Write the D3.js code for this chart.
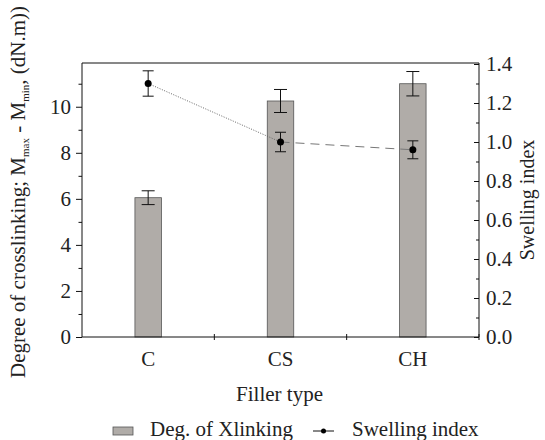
<!DOCTYPE html>
<html>
<head>
<meta charset="utf-8">
<script src="https://cdn.jsdelivr.net/npm/d3@7"></script>
<style>
  body { margin: 0; background: #fff; }
  text { font-family: "Liberation Serif", "Times New Roman", serif; fill: #222; }
</style>
</head>
<body>
<svg id="chart"></svg>
<script>
// data
let fillers = ['C', 'CS', 'CH'];
let xlinking = [6.05, 10.25, 11.0];
let xlinkingErr = [0.3, 0.5, 0.53];
let swelling = [1.30, 1.00, 0.96];
let swellingErr = [0.065, 0.05, 0.046];
let leftTicks = [0, 2, 4, 6, 8, 10];
let rightTicks = [0.0, 0.2, 0.4, 0.6, 0.8, 1.0, 1.2, 1.4];

let width = 545, height = 440;
let plot = { left: 82, right: 479, top: 63, bottom: 337 };
let fontSize = '21px';

let svg = d3.select('#chart').attr('width', width).attr('height', height);

function translate(x, y) {
  return 'translate(' + x + ',' + y + ')';
}

let x = d3.scaleBand().domain(fillers).range([plot.left, plot.right]).padding(0);
let yLeft = d3.scaleLinear().domain([0, 11.9]).range([plot.bottom, plot.top]);
let yRight = d3.scaleLinear().domain([0, 1.4]).range([plot.bottom, plot.top + 1]);

let barW = x.bandwidth() * 0.2;
let cx = d => x(d) + x.bandwidth() / 2;

// bars
svg.selectAll('.bar')
  .data(fillers)
  .enter().append('rect')
  .attr('class', 'bar')
  .attr('x', d => cx(d) - barW / 2)
  .attr('width', barW)
  .attr('y', (d, i) => yLeft(xlinking[i]))
  .attr('height', (d, i) => plot.bottom - yLeft(xlinking[i]))
  .attr('fill', '#b0aca8')
  .attr('stroke', '#555')
  .attr('stroke-width', 0.8);

// error bars helper
function errorBars(cls, vals, errs, scale, cap) {
  let g = svg.append('g').attr('class', cls).attr('stroke', '#111').attr('stroke-width', 1);
  fillers.forEach((f, i) => {
    let px = cx(f), hi = scale(vals[i] + errs[i]), lo = scale(vals[i] - errs[i]);
    g.append('line').attr('x1', px).attr('x2', px).attr('y1', hi).attr('y2', lo);
    g.append('line').attr('x1', px - cap).attr('x2', px + cap).attr('y1', hi).attr('y2', hi);
    g.append('line').attr('x1', px - cap).attr('x2', px + cap).attr('y1', lo).attr('y2', lo);
  });
}
errorBars('bar-err', xlinking, xlinkingErr, yLeft, 6.5);

// swelling line: dotted first segment, dashed second
let pts = fillers.map((f, i) => [cx(f), yRight(swelling[i])]);
svg.append('line')
  .attr('x1', pts[0][0]).attr('y1', pts[0][1])
  .attr('x2', pts[1][0]).attr('y2', pts[1][1])
  .attr('stroke', '#666').attr('stroke-width', 1).attr('stroke-dasharray', '1,1.5');
svg.append('line')
  .attr('x1', pts[1][0]).attr('y1', pts[1][1])
  .attr('x2', pts[2][0]).attr('y2', pts[2][1])
  .attr('stroke', '#777').attr('stroke-width', 1).attr('stroke-dasharray', '9,6');

errorBars('sw-err', swelling, swellingErr, yRight, 5.5);

svg.selectAll('.pt')
  .data(pts)
  .enter().append('circle')
  .attr('class', 'pt')
  .attr('cx', d => d[0]).attr('cy', d => d[1])
  .attr('r', 3.5).attr('fill', '#000');

// frame
svg.append('line').attr('x1', plot.left).attr('x2', plot.right)
  .attr('y1', plot.top).attr('y2', plot.top).attr('stroke', '#111');

// left axis
let leftAxis = d3.axisLeft(yLeft).tickValues(leftTicks).tickSize(6).tickSizeOuter(0).tickPadding(5);
let gl = svg.append('g').attr('transform', translate(plot.left, 0)).call(leftAxis);
gl.select('.domain').attr('d', 'M0,' + plot.top + 'V' + plot.bottom);
svg.append('g').attr('transform', translate(plot.left, 0))
  .call(d3.axisLeft(yLeft).tickValues([1, 3, 5, 7, 9, 11]).tickSize(3.5).tickFormat(''))
  .select('.domain').remove();

// right axis, ticks pointing into the plot
let rightAxis = d3.axisRight(yRight).tickValues(rightTicks).tickSize(-5).tickSizeOuter(0)
  .tickPadding(7).tickFormat(d3.format('.1f'));
let gr = svg.append('g').attr('transform', translate(plot.right, 0)).call(rightAxis);
gr.select('.domain').attr('d', 'M0,' + plot.top + 'V' + plot.bottom);
svg.append('g').attr('transform', translate(plot.right, 0))
  .call(d3.axisRight(yRight).tickValues([0.1, 0.3, 0.5, 0.7, 0.9, 1.1, 1.3]).tickSize(-3).tickFormat(''))
  .select('.domain').remove();

// bottom axis: labels at band centres, ticks at band edges
let gb = svg.append('g').attr('transform', translate(0, plot.bottom))
  .call(d3.axisBottom(x).tickSize(0).tickPadding(14));
gb.select('.domain').attr('d', 'M' + plot.left + ',0H' + plot.right);
let edges = fillers.slice(1).map(f => x(f)).concat([plot.right]);
gb.selectAll('.edge')
  .data(edges)
  .enter().append('line')
  .attr('class', 'edge')
  .attr('x1', d => d).attr('x2', d => d)
  .attr('y1', -3).attr('y2', 3)
  .attr('stroke', '#111');

svg.selectAll('.tick text').style('font-size', fontSize).style('font-family', '"Liberation Serif", serif').attr('fill', '#222');
svg.selectAll('.domain, .tick line').attr('stroke', '#111');

// axis titles
svg.append('text')
  .attr('x', (plot.left + plot.right) / 2 - 1).attr('y', 401)
  .attr('text-anchor', 'middle').style('font-size', fontSize)
  .text('Filler type');

svg.append('text')
  .attr('transform', translate(534, 200) + ' rotate(-90)')
  .attr('text-anchor', 'middle').style('font-size', '20px')
  .text('Swelling index');

let lt = svg.append('text')
  .attr('transform', translate(25, 192) + ' rotate(-90)')
  .attr('text-anchor', 'middle').style('font-size', fontSize);
lt.append('tspan').text('Degree of crosslinking; M');
lt.append('tspan').attr('dy', 4).style('font-size', '11px').text('max');
lt.append('tspan').attr('dy', -4).text(' - M');
lt.append('tspan').attr('dy', 4).style('font-size', '11px').text('min');
lt.append('tspan').attr('dy', -4).text(', (dN.m))');

// legend
let leg = svg.append('g');
leg.append('rect').attr('x', 113).attr('y', 427).attr('width', 20).attr('height', 8)
  .attr('fill', '#b0aca8').attr('stroke', '#555').attr('stroke-width', 0.8);
leg.append('text').attr('x', 150).attr('y', 436).style('font-size', fontSize).text('Deg. of Xlinking');
leg.append('line').attr('x1', 313).attr('x2', 334).attr('y1', 431).attr('y2', 431)
  .attr('stroke', '#111');
leg.append('circle').attr('cx', 323.5).attr('cy', 431).attr('r', 2.5).attr('fill', '#000');
leg.append('text').attr('x', 352).attr('y', 436).style('font-size', fontSize).text('Swelling index');
</script>
</body>
</html>
